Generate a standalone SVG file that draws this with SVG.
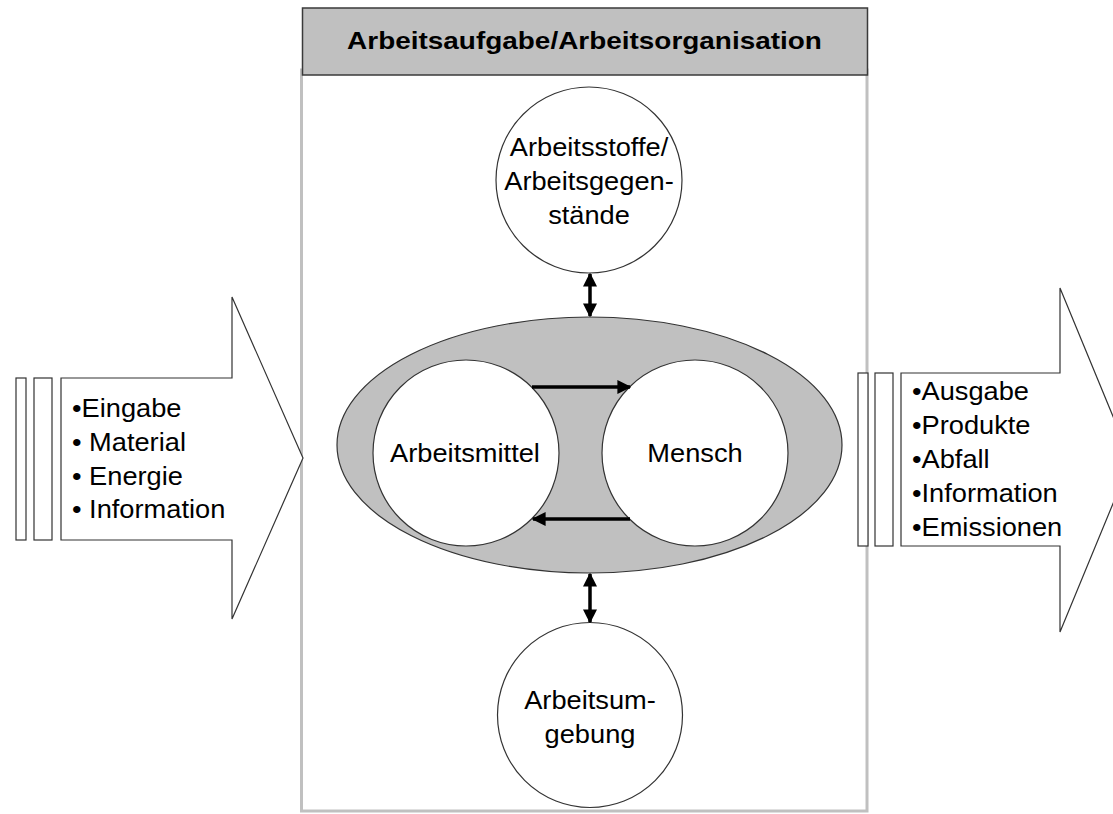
<svg xmlns="http://www.w3.org/2000/svg" width="1113" height="814" viewBox="0 0 1113 814">
<style>
.lbl{font-family:"Liberation Sans",Arial,sans-serif;font-size:25px;fill:#000}
.hd{font-family:"Liberation Sans",Arial,sans-serif;font-size:24px;font-weight:bold;fill:#000}
.c{fill:#fff;stroke:#333;stroke-width:1.2}
.bar{fill:#fff;stroke:#333;stroke-width:1.2}
.conn{stroke:#000;fill:none}
</style>
<defs>
<marker id="ah" viewBox="0 0 10 10" refX="9" refY="5" markerWidth="14" markerHeight="14" markerUnits="userSpaceOnUse" orient="auto-start-reverse">
<path d="M0,0 L10,5 L0,10 Z" fill="#000"/>
</marker>
</defs>
<rect width="1113" height="814" fill="#fff"/>
<g id="frame">
<rect x="301.5" y="70" width="565.5" height="741" fill="#fff" stroke="#c0c0c0" stroke-width="3"/>
</g>
<g id="header">
<rect x="302.5" y="8" width="565" height="67" fill="#c0c0c0" stroke="#3a3a3a" stroke-width="1.5"/>
<text class="hd" text-anchor="middle" transform="translate(584.5,48.5) scale(1.164,1)">Arbeitsaufgabe/Arbeitsorganisation</text>
</g>
<g id="input">
<rect class="bar" x="16" y="378" width="10" height="162"/>
<rect class="bar" x="34" y="378" width="18" height="162"/>
<polygon class="bar" points="61,378 232,378 232,297 303,458 232,619 232,540 61,540"/>
<text class="lbl" transform="translate(72,417) scale(1.09,1)">•Eingabe</text>
<text class="lbl" transform="translate(72,451) scale(1.09,1)">• Material</text>
<text class="lbl" transform="translate(72,485) scale(1.09,1)">• Energie</text>
<text class="lbl" transform="translate(72,518) scale(1.09,1)">• Information</text>
</g>
<g id="output">
<rect class="bar" x="858" y="373" width="10" height="173"/>
<rect class="bar" x="875" y="373" width="18" height="173"/>
<polygon class="bar" points="901,373 1060,373 1060,288 1131,460 1060,632 1060,546 901,546"/>
<text class="lbl" transform="translate(912,400) scale(1.09,1)">•Ausgabe</text>
<text class="lbl" transform="translate(912,434) scale(1.09,1)">•Produkte</text>
<text class="lbl" transform="translate(912,468) scale(1.09,1)">•Abfall</text>
<text class="lbl" transform="translate(912,502) scale(1.09,1)">•Information</text>
<text class="lbl" transform="translate(912,536) scale(1.09,1)">•Emissionen</text>
</g>
<g id="system">
<ellipse cx="589.5" cy="445" rx="252.5" ry="128" fill="#c0c0c0" stroke="#333" stroke-width="1.2"/>
</g>
<g id="arbeitsmittel">
<circle class="c" cx="466" cy="453" r="93"/>
<text class="lbl" text-anchor="middle" transform="translate(465,462) scale(1.09,1)">Arbeitsmittel</text>
</g>
<g id="mensch">
<circle class="c" cx="695" cy="453" r="93"/>
<text class="lbl" text-anchor="middle" transform="translate(695,462) scale(1.09,1)">Mensch</text>
</g>
<g id="arbeitsstoffe">
<circle class="c" cx="589" cy="180" r="93"/>
<text class="lbl" text-anchor="middle" transform="translate(589,156) scale(1.09,1)">Arbeitsstoffe/</text>
<text class="lbl" text-anchor="middle" transform="translate(589,190) scale(1.09,1)">Arbeitsgegen-</text>
<text class="lbl" text-anchor="middle" transform="translate(589,224) scale(1.09,1)">stände</text>
</g>
<g id="arbeitsumgebung">
<circle class="c" cx="590" cy="715" r="92.5"/>
<text class="lbl" text-anchor="middle" transform="translate(590,709) scale(1.09,1)">Arbeitsum-</text>
<text class="lbl" text-anchor="middle" transform="translate(590,743) scale(1.09,1)">gebung</text>
</g>
<g id="connectors">
<line class="conn" x1="532" y1="387" x2="630" y2="387" stroke-width="3.5" marker-end="url(#ah)"/>
<line class="conn" x1="630" y1="519" x2="533" y2="519" stroke-width="3.5" marker-end="url(#ah)"/>
<line class="conn" x1="590" y1="274" x2="590" y2="316" stroke-width="3.5" marker-start="url(#ah)" marker-end="url(#ah)"/>
<line class="conn" x1="590" y1="574" x2="590" y2="622" stroke-width="3.5" marker-start="url(#ah)" marker-end="url(#ah)"/>
</g>
</svg>
